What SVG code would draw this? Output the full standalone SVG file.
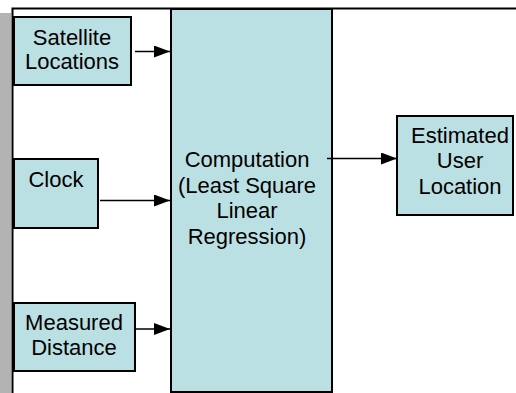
<svg xmlns="http://www.w3.org/2000/svg" width="516" height="393" viewBox="0 0 516 393">
<defs>
<style>
.box{fill:#BBE0E3;stroke:#000;stroke-width:2}
.t{font-family:"Liberation Sans",Arial,sans-serif;font-size:22px;fill:#000;text-anchor:middle}
.c{stroke:#000;stroke-width:1.5;fill:none}
</style>
<marker id="ah" markerWidth="16" markerHeight="12" refX="16" refY="6" orient="auto" markerUnits="userSpaceOnUse">
<path d="M0,0 L16,6 L0,12 Z" fill="#000"/>
</marker>
</defs>
<rect x="0" y="0" width="516" height="393" fill="#fff"/>
<rect x="0" y="13" width="11" height="380" fill="#B3B3B3"/>
<path d="M12.5,393 V8.5 H516" fill="none" stroke="#000" stroke-width="2"/>
<g id="computation">
<rect class="box" x="171" y="9" width="161" height="383"/>
<text class="t" x="247" y="166.5">Computation</text>
<text class="t" x="247" y="192.5">(Least Square</text>
<text class="t" x="247" y="218">Linear</text>
<text class="t" x="247" y="244">Regression)</text>
</g>
<g id="satellite">
<rect class="box" x="14" y="17" width="117" height="68"/>
<text class="t" x="72" y="45">Satellite</text>
<text class="t" x="72" y="69">Locations</text>
</g>
<g id="clock">
<rect class="box" x="14" y="159" width="84" height="69"/>
<text class="t" x="56" y="186.5">Clock</text>
</g>
<g id="measured">
<rect class="box" x="14" y="303" width="121" height="68"/>
<text class="t" x="74" y="330">Measured</text>
<text class="t" x="74" y="355">Distance</text>
</g>
<g id="estimated">
<rect class="box" x="397" y="116" width="116" height="99"/>
<text class="t" x="460" y="142.5">Estimated</text>
<text class="t" x="460" y="168">User</text>
<text class="t" x="460" y="194">Location</text>
</g>
<g id="connectors">
<line class="c" x1="135" y1="51.5" x2="170" y2="51.5" marker-end="url(#ah)"/>
<line class="c" x1="100" y1="200.5" x2="170" y2="200.5" marker-end="url(#ah)"/>
<line class="c" x1="136" y1="329" x2="170" y2="329" marker-end="url(#ah)"/>
<line class="c" x1="327" y1="158.5" x2="397" y2="158.5" marker-end="url(#ah)"/>
</g>
</svg>
